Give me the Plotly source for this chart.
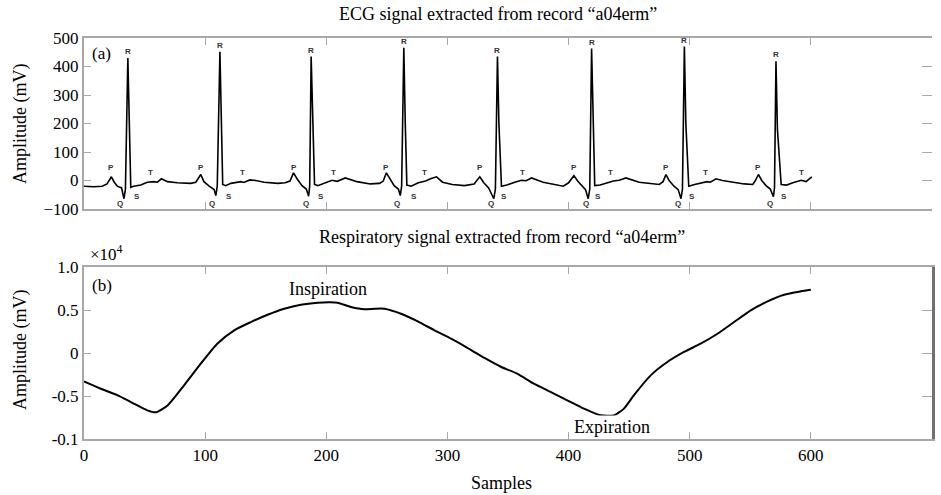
import plotly.graph_objects as go

# ---------------- data ----------------
ECG_X = [0, 8, 15, 19, 22.6, 25, 27.5, 31, 33, 34.2, 36.2, 37.6, 38.6, 41, 46.8, 52.3, 57.8, 60.6, 63.9, 68.9, 77, 88,
         92.3, 96.4, 99, 103.3, 107.4, 108.8, 110, 112.2, 113.4, 114.5, 117, 121.2, 129.5, 132, 136.9, 141.8, 148.7, 160, 166,
         170, 173, 176, 180, 183.5, 185.4, 186.3, 187.5, 188.7, 190.3, 193, 200, 204.7, 209, 215.7, 225.3, 236.3, 244,
         247, 249.6, 252.5, 256, 259.5, 261.1, 262.2, 264, 265.2, 266.5, 270, 276, 282, 286, 291, 296, 304, 314, 322,
         324, 326.7, 330, 334, 338.3, 339.6, 341.3, 342.5, 344.6, 349, 355.6, 361.1, 365, 369.4, 379, 388, 395.6, 400,
         404.4, 407.5, 411, 414, 416.2, 417.5, 419, 420.2, 421.6, 426, 432, 437, 441.8, 447.3, 458.3, 468, 474.9, 478,
         480.4, 483, 487, 490.5, 492.8, 494, 495.6, 496.8, 499.2, 504, 510.2, 514.4, 517, 521.7, 527, 535.5, 545, 552, 554,
         556.7, 559.5, 563, 566.5, 569.1, 570, 571.2, 572.4, 575.5, 580, 585.1, 589, 592, 596, 600.8]
ECG_Y = [-20, -22, -20, -12, 13, -6, -20, -26, -64, -30, 430, 200, -24, -20, -16, -6, -4, -6, 6, -4, -8, -10,
         -6, 21, -4, -20, -32, -53, -20, 452, 200, -14, -18, -10, -4, -7, 2, 0, -6, -10, -8,
         -2, 27, 5, -18, -30, -55, -20, 435, 200, -14, -18, -8, 1, -3, 9, -4, -12, -10,
         -2, 27, 5, -18, -30, -53, -20, 466, 200, -16, -20, -8, -2, 6, 13, -6, -14, -18, -12,
         -2, 13, -8, -26, -64, -30, 435, 200, -20, -16, -6, 1, -1, 9, -6, -14, -20, -8,
         17, -2, -20, -32, -64, -30, 463, 200, -18, -16, -8, -2, 1, 9, -6, -12, -14, -4,
         21, 0, -20, -32, -64, -30, 470, 200, -20, -14, -8, -4, -6, 6, 0, -6, -12, -14, -2,
         21, 0, -18, -30, -57, -25, 418, 180, -14, -16, -8, -2, 1, -4, 13]

R_X = [36.2, 112.2, 187.5, 264, 341.3, 419, 495.6, 571.2]
R_Y = [430, 452, 435, 466, 435, 463, 470, 418]
P_X = [22.6, 96.4, 173, 249.6, 326.7, 404.4, 480.4, 556.7]
Q_X = [30, 106, 183, 258, 336, 414, 490, 566]
S_X = [44, 120, 196, 272, 347, 424, 502, 578]
T_X = [54.5, 130.6, 206, 281, 362, 435, 513, 592]

RESP_X = [0, 13, 27.5, 40, 52.3, 59, 69, 82.6, 96.4, 110, 124, 137.8, 151.5, 165.3, 179, 192.9, 203, 209.4,
          220.4, 231.4, 240, 248, 261.7, 275.5, 289.3, 303, 316.8, 330.6, 344, 357.6, 371.3, 385.1, 398.9,
          412.6, 426.4, 437.4, 445.7, 454, 467.8, 481.5, 495.3, 509, 522.9, 536.6, 550.4, 564.2, 577.9, 591.7, 600]
RESP_Y = [-0.33, -0.41, -0.49, -0.58, -0.667, -0.69, -0.61, -0.376, -0.124, 0.108, 0.264, 0.36, 0.445, 0.515,
          0.562, 0.585, 0.59, 0.585, 0.535, 0.508, 0.515, 0.515, 0.457, 0.368, 0.264, 0.166, 0.058, -0.058,
          -0.16, -0.24, -0.357, -0.453, -0.55, -0.647, -0.725, -0.725, -0.647, -0.49, -0.26, -0.105, 0.012,
          0.108, 0.224, 0.36, 0.496, 0.6, 0.678, 0.717, 0.735]

ECG_YTICKS = [-100, 0, 100, 200, 300, 400, 500]
RESP_YTICKS = [-1, -0.5, 0, 0.5, 1]
RESP_YTICKTEXT = ["-0.1", "-0.5", "0", "0.5", "1.0"]
X_TICKS = [0, 100, 200, 300, 400, 500, 600, 700]

# ---------------- figure ----------------
W, H = 941, 495
SERIF = "Liberation Serif, Times New Roman, serif"
GRAY = "#a8a8a8"

def px_x(p):
    return p / W

def px_y(p):
    return 1 - p / H

fig = go.Figure()
fig.add_trace(go.Scatter(x=ECG_X, y=ECG_Y, mode="lines", line=dict(color="black", width=1.6),
                         xaxis="x", yaxis="y", showlegend=False, hoverinfo="skip"))
fig.add_trace(go.Scatter(x=RESP_X, y=RESP_Y, mode="lines",
                         line=dict(color="black", width=2, shape="spline", smoothing=0.6),
                         xaxis="x2", yaxis="y2", showlegend=False, hoverinfo="skip"))
fig.add_trace(go.Scatter(x=[None], y=[None], xaxis="x", yaxis="y3", showlegend=False, hoverinfo="skip"))
fig.add_trace(go.Scatter(x=[None], y=[None], xaxis="x2", yaxis="y4", showlegend=False, hoverinfo="skip"))

xdom = [px_x(84), px_x(932)]
top_dom = [px_y(209), px_y(38)]
bot_dom = [px_y(439), px_y(267)]

axis_common = dict(showgrid=False, zeroline=False, ticks="inside", ticklen=7, tickcolor=GRAY,
                   showline=True, linecolor=GRAY, linewidth=2, automargin=False,
                   tickfont=dict(family=SERIF, size=17, color="black"))

fig.update_layout(
    width=W, height=H, margin=dict(l=0, r=0, t=0, b=0, autoexpand=False),
    paper_bgcolor="white", plot_bgcolor="white",
    font=dict(family=SERIF, color="black"),
    xaxis=dict(domain=xdom, range=[0, 700], anchor="y", tickvals=X_TICKS, showticklabels=False,
               mirror="ticks", **axis_common),
    yaxis=dict(domain=top_dom, range=[-100, 500], anchor="x", tickvals=ECG_YTICKS, **axis_common),
    xaxis2=dict(domain=xdom, range=[0, 700], anchor="y2", tickvals=X_TICKS, mirror="ticks", **axis_common),
    yaxis2=dict(domain=bot_dom, range=[-1, 1], anchor="x2", tickvals=RESP_YTICKS, ticktext=RESP_YTICKTEXT,
                **axis_common),
    yaxis3=dict(domain=top_dom, range=[-100, 500], anchor="x", overlaying="y", side="right",
                tickvals=ECG_YTICKS, showticklabels=False, showgrid=False, zeroline=False,
                ticks="inside", ticklen=10, tickcolor=GRAY, showline=False, automargin=False),
    yaxis4=dict(domain=bot_dom, range=[-1, 1], anchor="x2", overlaying="y2", side="right",
                tickvals=RESP_YTICKS, showticklabels=False, showgrid=False, zeroline=False,
                ticks="inside", ticklen=10, tickcolor=GRAY, showline=True,
                linecolor="#707070", linewidth=3, automargin=False),
)

ann = []
def text_ann(x, y, text, size=18, xref="paper", yref="paper", **kw):
    d = dict(x=x, y=y, text=text, xref=xref, yref=yref, showarrow=False,
             xanchor="center", yanchor="middle",
             font=dict(family=SERIF, size=size, color="black"))
    d.update(kw)
    ann.append(d)

text_ann(px_x(498), px_y(14), "ECG signal extracted from record “a04erm”", size=18)
text_ann(px_x(502), px_y(237), "Respiratory signal extracted from record “a04erm”", size=18)
text_ann(px_x(20), px_y(124), "Amplitude (mV)", size=18, textangle=-90)
text_ann(px_x(20), px_y(350), "Amplitude (mV)", size=18, textangle=-90)
text_ann(px_x(502), px_y(483), "Samples", size=18)
text_ann(px_x(88), px_y(253), "×10<sup>4</sup>", size=17, xanchor="left")
text_ann(px_x(90), px_y(53), "(a)", size=17, xanchor="left")
text_ann(px_x(90), px_y(285), "(b)", size=17, xanchor="left")
text_ann(201.6, 0.744, "Inspiration", size=18, xref="x2", yref="y2")
text_ann(435.9, -0.86, "Expiration", size=18, xref="x2", yref="y2", bgcolor="white")

LBL = dict(family="Liberation Sans, Arial, sans-serif", size=8, color="#333")
for x, y in zip(R_X, R_Y):
    ann.append(dict(x=x, y=y, text="<b>R</b>", xref="x", yref="y", showarrow=False,
                    yanchor="bottom", yshift=0, font=LBL))
for x in P_X:
    ann.append(dict(x=x, y=45, text="<b>P</b>", xref="x", yref="y", showarrow=False, font=LBL))
for x in Q_X:
    ann.append(dict(x=x, y=-80, text="<b>Q</b>", xref="x", yref="y", showarrow=False, font=LBL))
for x in S_X:
    ann.append(dict(x=x, y=-56, text="<b>S</b>", xref="x", yref="y", showarrow=False, font=LBL))
for x in T_X:
    ann.append(dict(x=x, y=28, text="<b>T</b>", xref="x", yref="y", showarrow=False, font=LBL))

fig.update_layout(annotations=ann)
fig.write_html("out.html", config={"displayModeBar": False},
               post_script="document.body.style.margin='0';")
